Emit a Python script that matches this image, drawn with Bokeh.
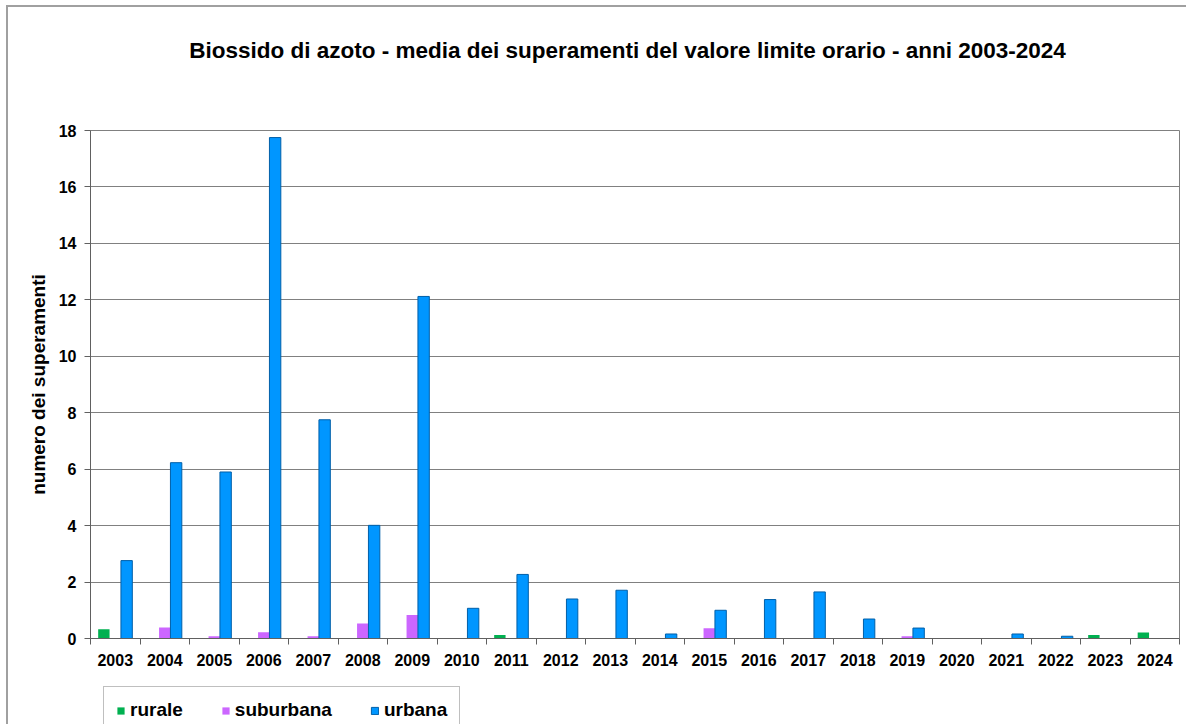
import numpy as np
from bokeh.plotting import figure
from bokeh.layouts import column
from bokeh.models import Range1d, FixedTicker, Legend, LegendItem, Label
from bokeh.embed import file_html
from bokeh.resources import INLINE

years = ["2003", "2004", "2005", "2006", "2007", "2008", "2009", "2010", "2011", "2012", "2013",
         "2014", "2015", "2016", "2017", "2018", "2019", "2020", "2021", "2022", "2023", "2024"]
rurale = [0.33, 0, 0, 0, 0, 0, 0, 0, 0.12, 0, 0, 0, 0, 0, 0, 0, 0, 0, 0, 0, 0.12, 0.21]
suburbana = [0, 0.39, 0.08, 0.22, 0.08, 0.53, 0.83, 0, 0, 0, 0, 0, 0.36, 0, 0, 0, 0.08, 0, 0, 0, 0, 0]
urbana = [2.76, 6.23, 5.90, 17.75, 7.75, 4.01, 12.12, 1.07, 2.27, 1.40, 1.71, 0.16, 1.00, 1.38,
          1.65, 0.69, 0.37, 0, 0.16, 0.08, 0, 0]
y_ticks = [0, 2, 4, 6, 8, 10, 12, 14, 16, 18]
series = ["rurale", "suburbana", "urbana"]
colors = ["#00B050", "#CC66FF", "#0096FF"]
outlines = [None, None, "#005FA8"]

FONT = "Liberation Sans"
W = 1178
BORDERS = dict(min_border_left=82, min_border_right=7)
idx = np.arange(len(years))
bw = 0.23
offsets = [-bw, 0, bw]
values = [rurale, suburbana, urbana]

# ---------- title strip (data coords = page pixels) ----------
p0 = figure(width=W, height=80, output_backend="svg", toolbar_location=None,
            x_range=Range1d(90, 1179), y_range=Range1d(87, 7), x_axis_type=None, y_axis_type=None,
            min_border_top=0, min_border_bottom=0, outline_line_color=None, **BORDERS)
p0.grid.visible = False
p0.add_layout(Label(x=627, y=50,
                    text="Biossido di azoto - media dei superamenti del valore limite orario - anni 2003-2024",
                    text_font=FONT, text_font_style="bold", text_font_size="22.5px", text_color="black",
                    text_align="center", text_baseline="middle"))

# ---------- chart ----------
p = figure(width=W, height=586, output_backend="svg", toolbar_location=None,
           x_range=Range1d(-0.5, len(years) - 0.5), y_range=Range1d(0, 18),
           min_border_top=43, min_border_bottom=35, **BORDERS)
p.background_fill_color = "white"
p.border_fill_color = "white"
p.outline_line_color = "#808080"
p.outline_line_width = 1

for off, vals, c, lc in zip(offsets, values, colors, outlines):
    p.vbar(x=idx + off, top=vals, width=bw, fill_color=c, line_color=lc, line_width=1)

p.xaxis.ticker = FixedTicker(ticks=list(idx), minor_ticks=list(idx - 0.5) + [len(years) - 0.5])
p.xaxis.major_label_overrides = {int(i): y for i, y in zip(idx, years)}
p.xaxis.major_tick_out = 0
p.xaxis.major_tick_in = 0
p.xaxis.minor_tick_out = 6
p.xaxis.minor_tick_in = 0
p.xaxis.minor_tick_line_color = "#606060"
p.xaxis.axis_line_color = "#606060"
p.xaxis.major_label_standoff = 9
p.xaxis.major_label_text_font = FONT
p.xaxis.major_label_text_font_style = "bold"
p.xaxis.major_label_text_font_size = "16px"
p.xaxis.major_label_text_color = "black"
p.xgrid.grid_line_color = None

p.yaxis.ticker = FixedTicker(ticks=y_ticks, minor_ticks=[])
p.yaxis.major_tick_out = 6
p.yaxis.major_tick_in = 0
p.yaxis.major_tick_line_color = "#606060"
p.yaxis.axis_line_color = "#606060"
p.yaxis.major_label_standoff = 8
p.yaxis.major_label_text_font = FONT
p.yaxis.major_label_text_font_style = "bold"
p.yaxis.major_label_text_font_size = "16px"
p.yaxis.major_label_text_color = "black"
p.yaxis.axis_label = "numero dei superamenti"
p.yaxis.axis_label_text_font = FONT
p.yaxis.axis_label_text_font_style = "bold"
p.yaxis.axis_label_text_font_size = "19px"
p.yaxis.axis_label_text_color = "black"
p.yaxis.axis_label_standoff = 7
p.ygrid.grid_line_color = "#808080"
p.ygrid.grid_line_width = 1

# ---------- legend strip (series drawn outside its visible range, only for legend swatches) ----------
p2 = figure(width=W, height=51, output_backend="svg", toolbar_location=None,
            x_range=Range1d(100, 101), y_range=Range1d(100, 101), x_axis_type=None, y_axis_type=None,
            min_border_top=0, min_border_bottom=0, outline_line_color=None, **BORDERS)
p2.grid.visible = False
items = []
for s, off, vals, c, lc in zip(series, offsets, values, colors, outlines):
    g = p2.vbar(x=idx + off, top=vals, width=bw, fill_color=c, line_color=lc, line_width=1)
    items.append(LegendItem(label=s, renderers=[g]))
legend = Legend(items=items, orientation="horizontal", location="top_left",
                border_line_color="#808080", border_line_width=1,
                background_fill_color="white", background_fill_alpha=1,
                label_text_font=FONT, label_text_font_style="bold", label_text_font_size="19px",
                label_text_color="black", glyph_width=9, glyph_height=9, label_standoff=5,
                spacing=38, padding=12, margin=13)
p2.add_layout(legend)

layout = column(p0, p, p2, spacing=0,
                styles={"margin-left": "6px", "margin-top": "5px",
                        "border-left": "2px solid #a0a0a0", "border-top": "2px solid #a0a0a0"})

open("out.html", "w").write(file_html(layout, INLINE))
